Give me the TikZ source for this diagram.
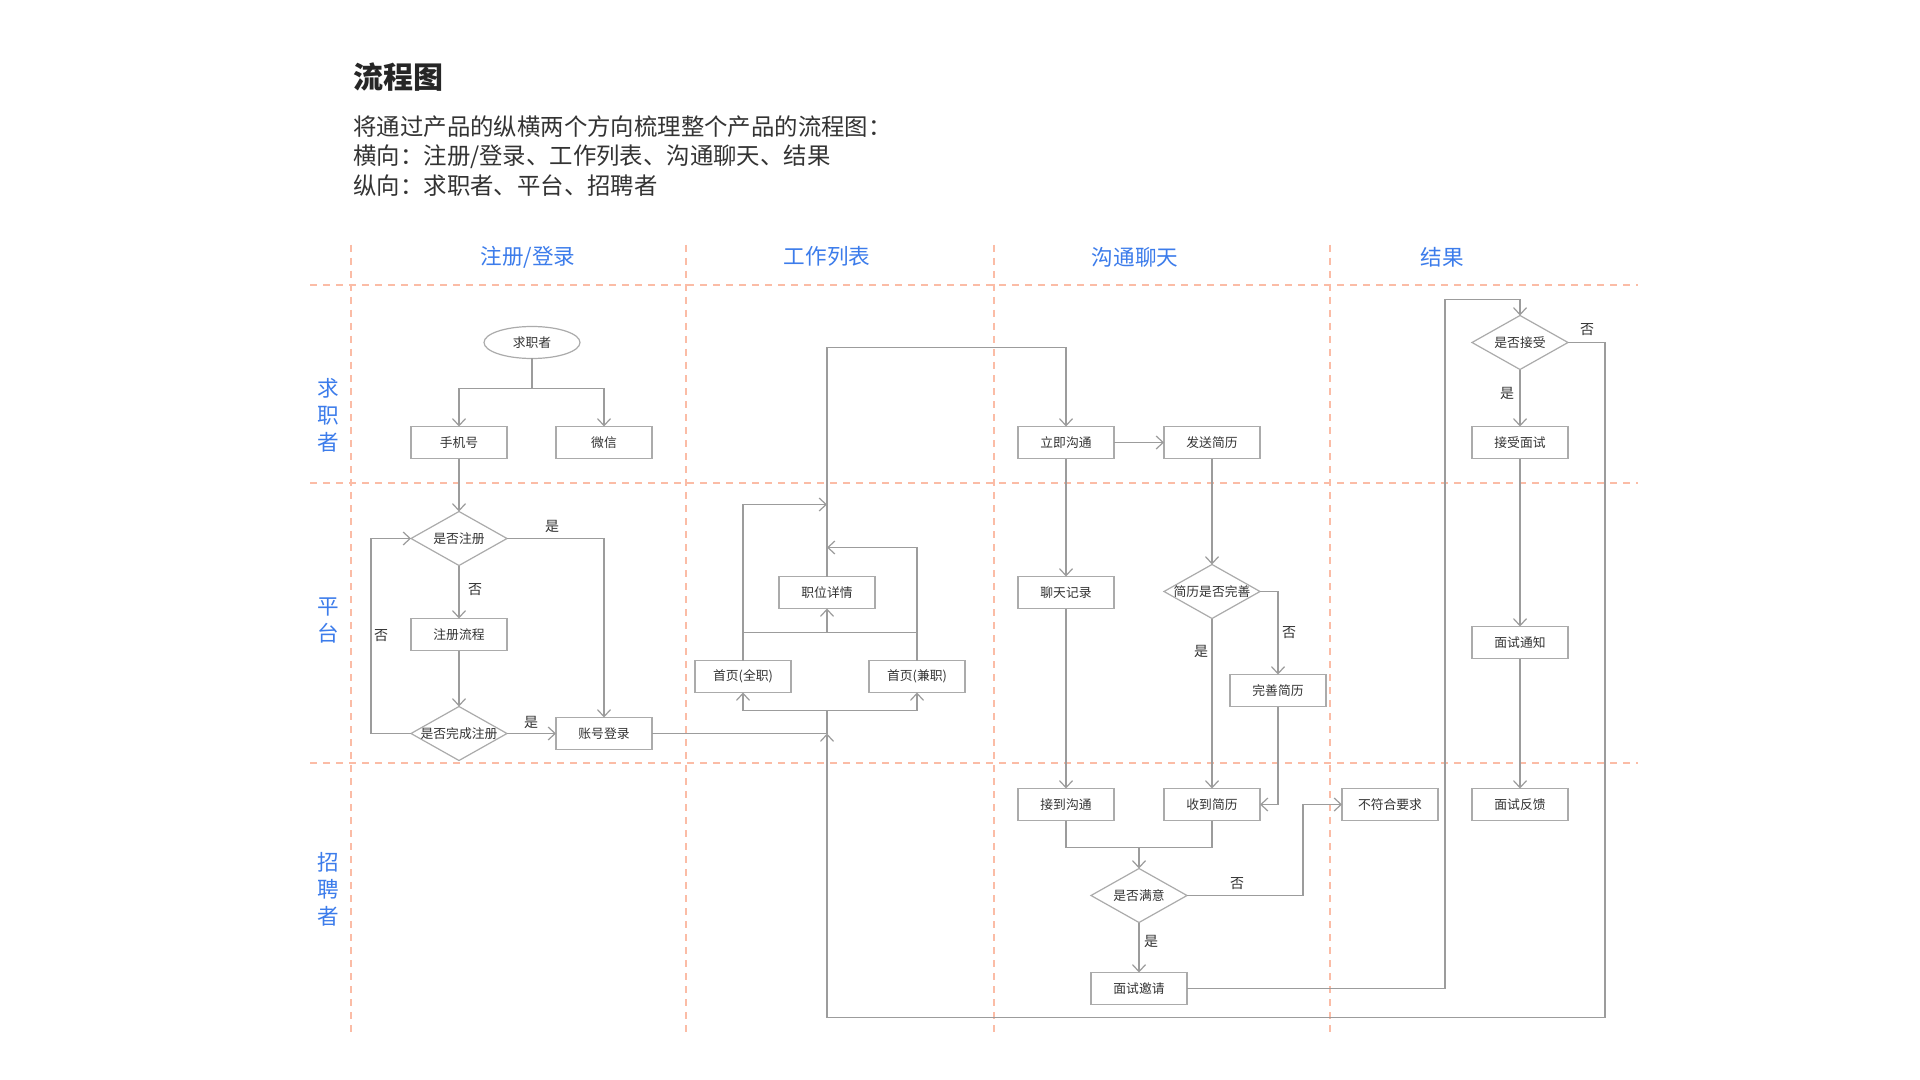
\documentclass[tikz,border=0pt]{standalone}
\usepackage{fontspec}
\setmainfont{Noto Sans CJK SC}
\usetikzlibrary{shapes.geometric,arrows.meta}
\definecolor{lanecol}{HTML}{3C7CEB}
\definecolor{gridcol}{HTML}{FBBCA6}
\definecolor{edgecol}{HTML}{9C9C9C}
\definecolor{boxcol}{HTML}{ABABAB}
\definecolor{inkcol}{HTML}{333333}
\newcommand{\boxfont}{\fontsize{6.4pt}{7.5pt}\selectfont}
\newcommand{\ynfont}{\fontsize{7pt}{8pt}\selectfont}
\newcommand{\headfont}{\fontsize{10.8pt}{13pt}\selectfont}
\newcommand{\rowfont}{\fontsize{10.8pt}{13.5pt}\selectfont}
\newcommand{\parafont}{\fontsize{11.7pt}{14pt}\selectfont}
\newcommand{\titlefont}{\fontsize{15pt}{18pt}\selectfont\bfseries}
\newcommand{\zw}[1]{\makebox[0pt][c]{#1}}
\tikzset{
  stepbox/.style={draw=boxcol, line width=0.6pt, fill=white, minimum width=48pt, minimum height=16pt, inner sep=0pt, outer sep=0pt, text=inkcol, font=\boxfont},
  startnode/.style={stepbox, ellipse},
  decision/.style={draw=boxcol, line width=0.6pt, fill=white, diamond, minimum width=48pt, minimum height=27pt, inner sep=0pt, outer sep=0pt, text=inkcol, font=\boxfont},
  link/.style={draw=edgecol, line width=0.6pt},
  arr/.style={link, -{Straight Barb[length=3.5pt,width=6.5pt]}},
  yn/.style={text=inkcol, font=\ynfont, inner sep=0pt},
  gridline/.style={draw=gridcol, line width=0.7pt, dash pattern=on 3.5pt off 3pt},
  colhead/.style={text=lanecol, font=\headfont, inner sep=0pt},
  rowhead/.style={text=lanecol, font=\rowfont, align=center, inner sep=0pt},
  para/.style={text=inkcol, font=\parafont, anchor=west, inner sep=0pt}
}
\begin{document}
\begin{tikzpicture}[x=0.5pt, y=-0.5pt]
\useasboundingbox[fill=white] (0,0) rectangle (1920,1080);

% grid
\foreach \gx in {351,686,994,1330} \draw[gridline] (\gx,245) -- (\gx,1035);
\foreach \gy in {285,483,763} \draw[gridline] (310,\gy) -- (1638,\gy);

% heading
\node[para, font=\titlefont, text=black!85] (title) at (353,77) {流程图};
\node[para] (p1) at (353,127) {将通过产品的纵横两个方向梳理整个产品的流程图：};
\node[para] (p2) at (353,157) {横向：注册/登录、工作列表、沟通聊天、结果};
\node[para] (p3) at (353,186) {纵向：求职者、平台、招聘者};

% column and row headers
\node[colhead] (c1) at (528,257) {注册/登录};
\node[colhead] (c2) at (827,256) {工作列表};
\node[colhead] (c3) at (1135,257) {沟通聊天};
\node[colhead] (c4) at (1442,257) {结果};
\node[rowhead] (r1) at (328,415) {求\\职\\者};
\node[rowhead] (r2) at (328,621) {平\\台};
\node[rowhead] (r3) at (328,889) {招\\聘\\者};

\begin{scope}[yshift=-0.75pt]
% nodes
\node[startnode] (seeker) at (532,341) {求职者};
\node[stepbox] (phone) at (459,441) {手机号};
\node[stepbox] (wechat) at (604,441) {微信};
\node[decision] (isreg) at (459,537) {\zw{是否注册}};
\node[stepbox] (regflow) at (459,633) {注册流程};
\node[decision] (regdone) at (459,732) {\zw{是否完成注册}};
\node[stepbox] (login) at (604,732) {账号登录};
\node[stepbox] (homefull) at (743,675) {首页(全职)};
\node[stepbox] (homepart) at (917,675) {首页(兼职)};
\node[stepbox] (detail) at (827,591) {职位详情};
\node[stepbox] (chat) at (1066,441) {立即沟通};
\node[stepbox] (send) at (1212,441) {发送简历};
\node[stepbox] (history) at (1066,591) {聊天记录};
\node[decision] (cvok) at (1212,590) {\zw{简历是否完善}};
\node[stepbox] (improve) at (1278,689) {完善简历};
\node[stepbox] (recvchat) at (1066,803) {接到沟通};
\node[stepbox] (recvcv) at (1212,803) {收到简历};
\node[stepbox] (reject) at (1390,803) {不符合要求};
\node[stepbox] (feedback) at (1520,803) {面试反馈};
\node[decision] (satisfied) at (1139,894) {\zw{是否满意}};
\node[stepbox] (invite) at (1139,987) {面试邀请};
\node[decision] (accept) at (1520,341) {\zw{是否接受}};
\node[stepbox] (acceptint) at (1520,441) {接受面试};
\node[stepbox] (notice) at (1520,641) {面试通知};

% connectors: register / login
\coordinate (b1) at (532,387);
\draw[link] (seeker.south) -- (b1);
\draw[arr] (b1) -| (phone.north);
\draw[arr] (b1) -| (wechat.north);
\draw[arr] (phone) -- (isreg);
\draw[arr] (isreg.east) -| (login.north);
\node[yn] (y1) at (552,525) {是};
\draw[arr] (isreg) -- (regflow);
\node[yn] (n1) at (475,588) {否};
\draw[arr] (regflow) -- (regdone);
\draw[arr] (regdone) -- (login);
\node[yn] (y2) at (531,721) {是};
\coordinate (lp) at (371,732);
\draw[arr] (regdone.west) -- (lp) |- (isreg.west);
\node[yn] (n2) at (381,634) {否};

% job list
\coordinate (j1) at (827,732);
\coordinate (j2) at (827,709);
\draw[link] (login.east) -- (j1) -- (j2);
\draw[arr] (j2) -| (homefull.south);
\draw[arr] (j2) -| (homepart.south);
\coordinate (h1) at (743,631);
\coordinate (h2) at (917,631);
\coordinate (h3) at (827,631);
\draw[link] (homefull.north) -- (h1) -- (h2) -- (homepart.north);
\draw[arr] (h3) -- (detail.south);
\coordinate (h4) at (827,503);
\coordinate (h5) at (827,546);
\draw[arr] (h1) |- (h4);
\draw[arr] (h2) |- (h5);
\coordinate (t1) at (827,346);
\draw[arr] (detail.north) -- (t1) -| (chat.north);

% chat
\draw[arr] (chat) -- (send);
\draw[arr] (chat) -- (history);
\draw[arr] (history) -- (recvchat);
\draw[arr] (send) -- (cvok);
\draw[arr] (cvok.east) -| (improve.north);
\node[yn] (n3) at (1289,631) {否};
\draw[arr] (cvok) -- (recvcv);
\node[yn] (y3) at (1201,650) {是};
\draw[arr] (improve.south) |- (recvcv.east);
\coordinate (m1) at (1066,846);
\coordinate (m2) at (1212,846);
\coordinate (m3) at (1139,846);
\draw[link] (recvchat.south) -- (m1) -- (m2) -- (recvcv.south);
\draw[arr] (m3) -- (satisfied.north);
\coordinate (s1) at (1303,894);
\draw[arr] (satisfied.east) -- (s1) |- (reject.west);
\node[yn] (n4) at (1237,882) {否};
\draw[arr] (satisfied) -- (invite);
\node[yn] (y4) at (1151,940) {是};

% result
\coordinate (v1) at (1445,987);
\coordinate (v2) at (1445,298);
\draw[arr] (invite.east) -- (v1) -- (v2) -| (accept.north);
\coordinate (o1) at (1605,341);
\coordinate (o2) at (1605,1016);
\coordinate (o3) at (827,1016);
\draw[arr] (accept.east) -- (o1) -- (o2) -- (o3) -- (j1);
\node[yn] (n5) at (1587,328) {否};
\draw[arr] (accept) -- (acceptint);
\node[yn] (y5) at (1507,392) {是};
\draw[arr] (acceptint) -- (notice);
\draw[arr] (notice) -- (feedback);
\end{scope}
\end{tikzpicture}
\end{document}
